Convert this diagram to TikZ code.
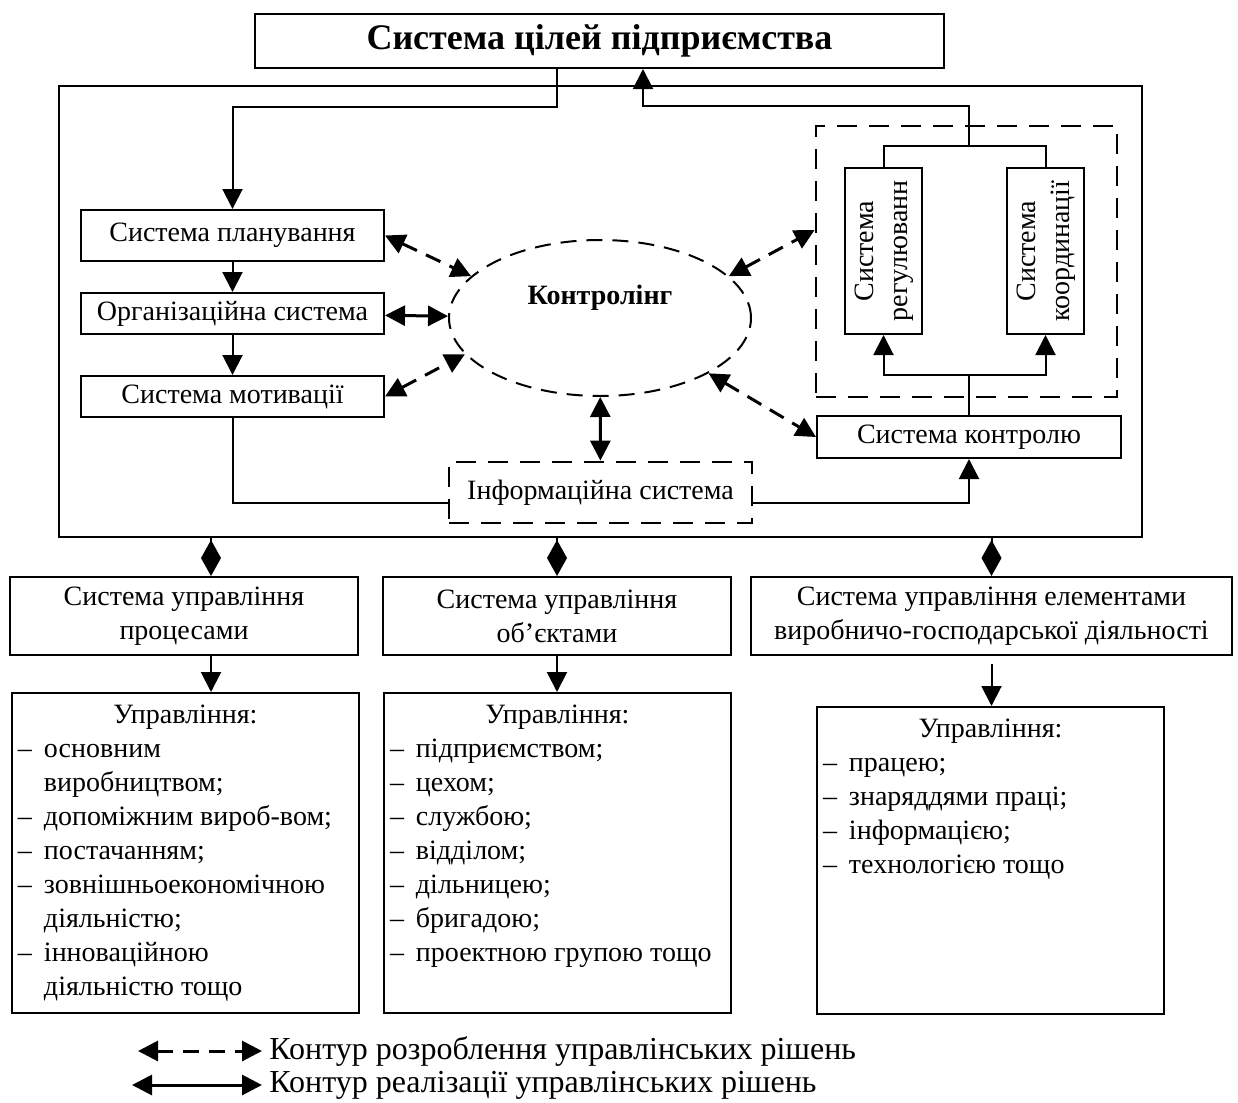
\documentclass[tikz,border=0pt]{standalone}
\usepackage{fontspec}
\setmainfont{Liberation Serif}
\usepackage{graphicx}
\usetikzlibrary{arrows.meta,shapes.geometric,positioning}

\newcommand{\itm}[1]{\par\noindent\makebox[13pt][l]{–}#1}
\newcommand{\cnt}[1]{\par\noindent\hspace*{13pt}#1}
\newcommand{\vtext}[2]{\rotatebox{90}{\begin{tabular}{@{}c@{}}#1\\#2\end{tabular}}}

\begin{document}
\begin{tikzpicture}[x=0.5pt, y=-0.5pt, thick,
            every node/.style={font=\fontsize{14}{17}\selectfont},
            box node/.style={draw, line width=1pt, align=center, inner sep=2pt},
            dash node/.style={draw, line width=1.4pt, dash pattern=on 10pt off 6pt, align=center},
            list node/.style={draw, line width=1pt, anchor=north west, inner xsep=3pt, inner ysep=6pt},
            >={Triangle[length=10pt,width=10pt]},
            conn/.style={line width=1pt},
            dash arrow/.style={<->, line width=1.5pt, dash pattern=on 8pt off 5pt},
            solid arrow/.style={<->, line width=1.5pt},
            dia/.style={-{Diamond[length=18pt,width=10pt]}, line width=1pt}]
            \useasboundingbox (0,0) rectangle (1238,1103);
            % top and frame
            \node[box node, minimum width=344.5pt, minimum height=27pt, font=\fontsize{18}{21}\selectfont\bfseries] (goal) at (599.5,41) {Система цілей підприємства};
            \node[draw, line width=1pt, minimum width=541.5pt, minimum height=225.5pt] (frame) at (600.5,311.5) {};
            % left column
            \node[box node, minimum width=151.5pt, minimum height=25.5pt] (plan) at (232.5,235.5) {Система планування};
            \node[box node, minimum width=151.5pt, minimum height=20.5pt] (org) at (232.5,313.5) {Організаційна система};
            \node[box node, minimum width=151.5pt, minimum height=20.5pt] (mot) at (232.5,396.5) {Система мотивації};
            % centre
            \node[draw, ellipse, line width=1pt, dash pattern=on 8pt off 5pt, minimum width=151pt, minimum height=78pt, inner sep=0pt,
                  label={[font=\fontsize{14}{17}\selectfont\bfseries, yshift=10pt]center:Контролінг}] (ctrl) at (600,318) {};
            \node[dash node, minimum width=151.5pt, minimum height=30.5pt] (info) at (600.5,492.5) {Інформаційна система};
            % right part
            \node[dash node, minimum width=150.5pt, minimum height=135.5pt] (group) at (966.5,261.5) {};
            \node[box node, minimum width=38.5pt, minimum height=83pt] (reg) at (883.5,251) {\vtext{Система}{регулюванн}};
            \node[box node, minimum width=38.5pt, minimum height=83pt] (coord) at (1045.5,251) {\vtext{Система}{координації}};
            \node[box node, minimum width=152pt, minimum height=21pt] (check) at (969,437) {Система контролю};
            % bottom row
            \node[box node, minimum width=174pt, minimum height=39pt] (pr) at (184,616) {Система управління\\процесами};
            \node[box node, minimum width=174pt, minimum height=39pt] (ob) at (557,616) {Система управління\\об’єктами};
            \node[box node, minimum width=240.5pt, minimum height=39pt] (el) at (991.5,616) {Система управління елементами\\виробничо-господарської діяльності};
            \node[list node] (lst1) at (11,692) {\parbox[t][148pt][t]{167.5pt}{\centerline{Управління:}\itm{основним}\cnt{виробництвом;}\itm{допоміжним вироб-вом;}\itm{постачанням;}\itm{зовнішньоекономічною}\cnt{діяльністю;}\itm{інноваційною}\cnt{діяльністю тощо}}};
            \node[list node] (lst2) at (383,692) {\parbox[t][148pt][t]{167.5pt}{\centerline{Управління:}\itm{підприємством;}\itm{цехом;}\itm{службою;}\itm{відділом;}\itm{дільницею;}\itm{бригадою;}\itm{проектною групою тощо}}};
            \node[list node] (lst3) at (816,706) {\parbox[t][141.5pt][t]{167.5pt}{\centerline{Управління:}\itm{працею;}\itm{знаряддями праці;}\itm{інформацією;}\itm{технологією тощо}}};
            % legend
            \node[anchor=west, font=\fontsize{16}{19}\selectfont] (lgd) at (262,1051) {Контур розроблення управлінських рішень};
            \node[anchor=west, font=\fontsize{16}{19}\selectfont] (lgs) at (262,1085) {Контур реалізації управлінських рішень};
            % connectors
            \draw[->, conn] ([xshift=-21.25pt]goal.south) -- ++(0,38) -| (plan.north);
            \draw[->, conn] (plan) -- (org);
            \draw[->, conn] (org) -- (mot);
            \draw[solid arrow] (org) -- (ctrl);
            \draw[dash arrow] (plan.east) -- (ctrl.162);
            \draw[dash arrow] (mot.east) -- (ctrl.195);
            \draw[solid arrow] (ctrl) -- (info);
            \draw[dash arrow] (ctrl.18) -- ([yshift=15.75pt]group.west);
            \draw[dash arrow] (ctrl.333) -- (check.west);
            \draw[conn] (mot) |- ([yshift=-5.25pt]info.west);
            \draw[->, conn] ([yshift=-5.25pt]info.east) -| (check);
            \draw[conn] (check.north) -- ++(0,-40) coordinate (jb);
            \draw[->, conn] (jb) -| (reg);
            \draw[->, conn] (jb) -| (coord);
            \draw[conn] (reg.north) -- ++(0,-21) -| (coord.north);
            \coordinate (jt) at (969,147);
            \draw[->, conn] (jt) -- ++(0,-41) -| ([xshift=21.75pt]goal.south);
            \draw[dia] ([xshift=13.5pt,yshift=20pt]pr.north) -- ([xshift=13.5pt]pr.north);
            \draw[dia] ([yshift=20pt]ob.north) -- (ob.north);
            \draw[dia] ([yshift=20pt]el.north) -- (el.north);
            \draw[->, conn] ([xshift=13.5pt]pr.south) -- ([xshift=13.5pt]pr.south |- lst1.north);
            \draw[->, conn] (ob.south) -- (ob.south |- lst2.north);
            \draw[->, conn] ([yshift=-4pt]el.south) -- (el.south |- lst3.north);
            \draw[dash arrow] ([xshift=-62pt]lgd.west) -- (lgd.west);
            \draw[solid arrow] ([xshift=-65pt]lgs.west) -- (lgs.west);
        \end{tikzpicture}
\end{document}
